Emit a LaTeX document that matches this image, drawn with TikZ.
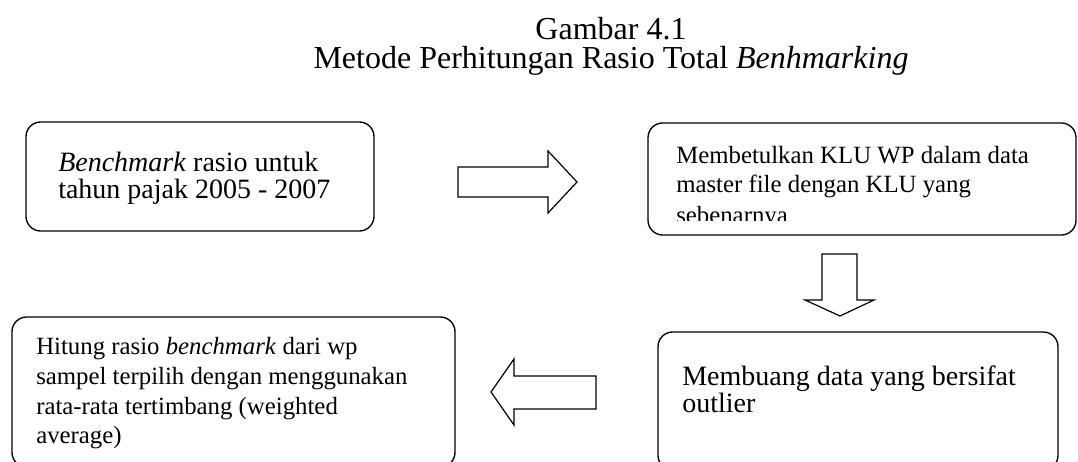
\documentclass[tikz,border=0pt]{standalone}
\usepackage{fontspec}
\setmainfont{Liberation Serif}
\usetikzlibrary{fit}
\begin{document}
\begin{tikzpicture}[x=0.75pt,y=-0.75pt,
  box/.style={draw=black, line width=1pt, rounded corners=11pt, inner sep=0pt},
  blockarrow/.style={draw=black, line width=0.9pt, line join=miter},
  ttl/.style={font=\fontsize{24}{28}\selectfont, inner sep=0pt, anchor=base},
  txtA/.style={font=\fontsize{21}{25}\selectfont, inner sep=0pt, anchor=base west},
  txtB/.style={font=\fontsize{18.6}{22}\selectfont, inner sep=0pt, anchor=base west}]
\clip (0,0) rectangle (1078,461);
\fill[white] (0,0) rectangle (1078,461);
% title
\node[ttl] (t1) at (611,39) {Gambar 4.1};
\node[ttl] (t2) at (611,68) {Metode Perhitungan Rasio Total \textit{Benhmarking}};
% boxes
\node[box, fit={(26,122) (374,231)}] (b1) {};
\node[box, fit={(648,123) (1076,235)}] (b2) {};
\node[box, fit={(12,317) (455,467)}] (b3) {};
\node[box, fit={(658,332) (1058,470)}] (b4) {};
% box texts
\node[txtA] (b1l1) at (58,171) {\textit{Benchmark} rasio untuk};
\node[txtA] (b1l2) at (58,198) {tahun pajak 2005 - 2007};
\begin{scope}
\clip (649,124) rectangle (1075,220);
\node[txtB] (b2l1) at (676,163) {Membetulkan KLU WP dalam data};
\node[txtB] (b2l2) at (676,192) {master file dengan KLU yang};
\node[txtB] (b2l3) at (676,223) {sebenarnya};
\end{scope}
\node[txtB] (b3l1) at (36,354) {Hitung rasio \textit{benchmark} dari wp};
\node[txtB] (b3l2) at (36,384) {sampel terpilih dengan menggunakan};
\node[txtB] (b3l3) at (36,414) {rata-rata tertimbang (weighted};
\node[txtB] (b3l4) at (36,443) {average)};
\node[txtA] (b4l1) at (682,385) {Membuang data yang bersifat};
\node[txtA] (b4l2) at (682,412) {outlier};
% block arrows
\draw[blockarrow] (458,167) -- (548,167) -- (548,151) -- (577,182) -- (548,213) -- (548,197) -- (458,197) -- cycle;
\draw[blockarrow] (822,254) -- (857,254) -- (857,300) -- (874,300) -- (840,316) -- (805,300) -- (822,300) -- cycle;
\draw[blockarrow] (596,376) -- (514,376) -- (514,359) -- (491,392) -- (514,425) -- (514,409) -- (596,409) -- cycle;
\end{tikzpicture}
\end{document}
